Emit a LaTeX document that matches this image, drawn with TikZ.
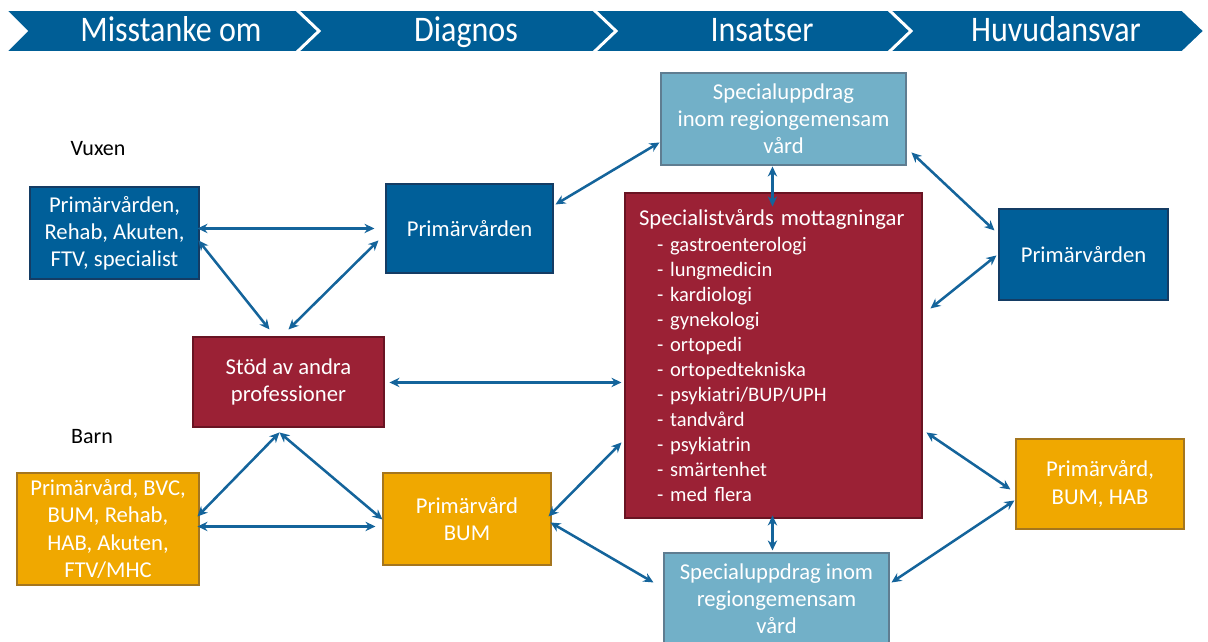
\documentclass[tikz,border=0pt]{standalone}
\usepackage{fontspec}
\setmainfont{Carlito}
\newfontfamily\hdrfont[FakeStretch=0.89]{Carlito}
\usetikzlibrary{arrows.meta,calc}
\definecolor{hdrblue}{RGB}{0,94,150}
\definecolor{dblue}{RGB}{0,95,153}
\definecolor{dblueb}{RGB}{20,60,100}
\definecolor{dred}{RGB}{155,33,53}
\definecolor{dredb}{RGB}{105,20,35}
\definecolor{orng}{RGB}{240,168,0}
\definecolor{orngb}{RGB}{165,118,30}
\definecolor{lblue}{RGB}{114,176,200}
\definecolor{lblueb}{RGB}{95,125,145}
\definecolor{arr}{RGB}{20,100,155}
\begin{document}
\begin{tikzpicture}[x=0.75pt,y=-0.75pt,
  sz/.style 2 args={minimum width={#1*0.75pt},minimum height={#2*0.75pt}},
  boxtxt/.style={inner sep=0pt,align=center,text=white,line width=0.8pt,
    font=\fontsize{17}{20.4}\selectfont},
  bluebox/.style={boxtxt,fill=dblue,draw=dblueb},
  redbox/.style={boxtxt,fill=dred,draw=dredb},
  orbox/.style={boxtxt,fill=orng,draw=orngb},
  lbbox/.style={boxtxt,fill=lblue,draw=lblueb},
  hdrtxt/.style={text=white,inner sep=0pt,anchor=base,font=\hdrfont\fontsize{27}{30}\selectfont},
  grouplbl/.style={inner sep=0pt,font=\fontsize{16.5}{20}\selectfont},
  conn/.style={draw=arr,line width=1.9pt,{Stealth[length=7.5pt,width=7pt]}-{Stealth[length=7.5pt,width=7pt]}},
  chev/.style={fill=hdrblue,draw=white,line width=1.2pt,line join=miter}
]
\useasboundingbox (0,0) rectangle (1208,642);

% header chevrons
\filldraw[chev] (6,10) -- (296,10) -- (318,31) -- (296,52) -- (6,52) -- (27,31) -- cycle;
\filldraw[chev] (298,10) -- (593,10) -- (615,31) -- (593,52) -- (298,52) -- (320,31) -- cycle;
\filldraw[chev] (595,10) -- (888,10) -- (910,31) -- (888,52) -- (595,52) -- (617,31) -- cycle;
\filldraw[chev] (890,10) -- (1182,10) -- (1204,31) -- (1182,52) -- (890,52) -- (912,31) -- cycle;
\node[hdrtxt] (h1) at (171,42) {Misstanke om};
\node[hdrtxt] (h2) at (466,42) {Diagnos};
\node[hdrtxt] (h3) at (762,42) {Insatser};
\node[hdrtxt] (h4) at (1056,42) {Huvudansvar};

% group labels
\node[grouplbl] (vux) at (98,149) {Vuxen};
\node[grouplbl] (barnl) at (92,437) {Barn};

% boxes
\node[bluebox,sz={169}{92}] (b1) at (114.5,233) {Primärvården,\\Rehab, Akuten,\\FTV, specialist};
\node[bluebox,sz={167}{89}] (b2) at (469.5,228.5) {Primärvården};
\node[redbox,sz={191}{90}] (stod) at (288.5,382) {Stöd av andra\\professioner};
\node[orbox,sz={182}{112}] (barn) at (108,529) {Primärvård, BVC,\\BUM, Rehab,\\HAB, Akuten,\\FTV/MHC};
\node[orbox,sz={168}{92}] (pbum) at (467,519) {Primärvård\\BUM};
\node[lbbox,sz={245}{92}] (spt) at (783.5,119) {Specialuppdrag\\inom regiongemensam\\vård};
\node[redbox,sz={297}{325},align=left,text width={269*0.75pt},inner xsep={14*0.75pt},
  font=\fontsize{15.4}{18.75}\selectfont] (red) at (773.5,355.5)
  {{\fontsize{17}{18.75}\selectfont Specialistvårds mottagningar}\\[0.75pt]
   \hspace*{13.5pt}- gastroenterologi\\
   \hspace*{13.5pt}- lungmedicin\\
   \hspace*{13.5pt}- kardiologi\\
   \hspace*{13.5pt}- gynekologi\\
   \hspace*{13.5pt}- ortopedi\\
   \hspace*{13.5pt}- ortopedtekniska\\
   \hspace*{13.5pt}- psykiatri/BUP/UPH\\
   \hspace*{13.5pt}- tandvård\\
   \hspace*{13.5pt}- psykiatrin\\
   \hspace*{13.5pt}- smärtenhet\\
   \hspace*{13.5pt}- med flera};
\node[lbbox,sz={225}{92}] (spb) at (776.5,599) {Specialuppdrag inom\\regiongemensam\\vård};
\node[bluebox,sz={169}{91}] (rp) at (1083.5,254.5) {Primärvården};
\node[orbox,sz={168}{90}] (ro) at (1100,484) {Primärvård,\\BUM, HAB};

% connectors
\draw[conn] ($(b1.north west)+(168,42)$) -- ($(b2.north west)+(-11,45)$);
\draw[conn] ($(b1.north west)+(169,54)$) -- ($(stod.north west)+(77,-7)$);
\draw[conn] ($(b2.north west)+(-7,57)$) -- ($(stod.north west)+(96,-7)$);
\draw[conn] ($(stod.north west)+(197,46)$) -- ($(red.north west)+(-3,190)$);
\draw[conn] ($(b2.north west)+(170,21)$) -- ($(spt.north west)+(-1,70)$);
\draw[conn] ($(spt.north west)+(112,94)$) -- ($(red.north west)+(148,14)$);
\draw[conn] ($(spt.north west)+(251,80)$) -- ($(rp.north west)+(-4,22)$);
\draw[conn] ($(rp.north west)+(-2,47)$) -- ($(red.north west)+(306,116)$);
\draw[conn] ($(red.north west)+(302,240)$) -- ($(ro.north west)+(-5,51)$);
\draw[conn] ($(ro.north west)+(-1,62)$) -- ($(spb.north west)+(228,30)$);
\draw[conn] ($(red.north west)+(148,323)$) -- ($(spb.north west)+(109,-2)$);
\draw[conn] ($(pbum.north west)+(166,44)$) -- ($(red.north west)+(-3,250)$);
\draw[conn] ($(pbum.north west)+(168,50)$) -- ($(spb.north west)+(-10,30)$);
\draw[conn] ($(barn.north west)+(181,44)$) -- ($(stod.north west)+(87,96)$);
\draw[conn] ($(stod.north west)+(87,96)$) -- ($(pbum.north west)+(0,47)$);
\draw[conn] ($(barn.north west)+(181,54)$) -- ($(pbum.north west)+(-7,54)$);
\end{tikzpicture}
\end{document}
